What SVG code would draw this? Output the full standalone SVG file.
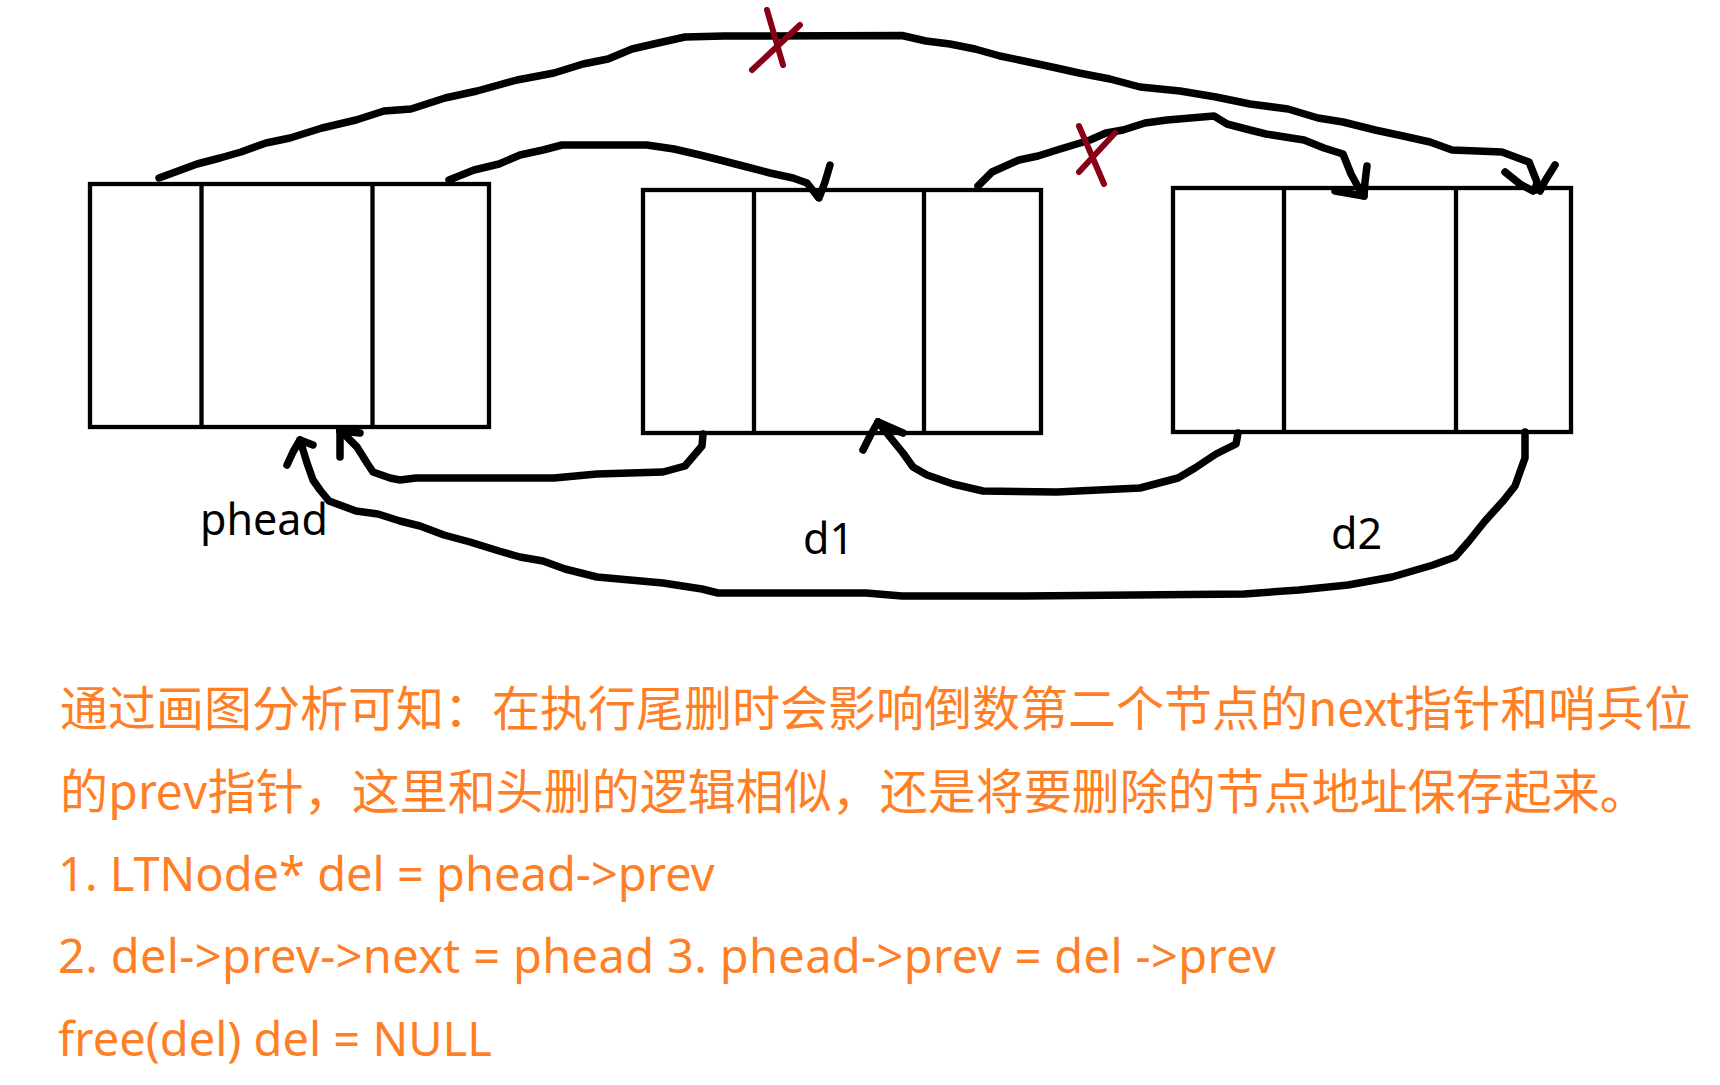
<svg xmlns="http://www.w3.org/2000/svg" width="1720" height="1085" viewBox="0 0 1720 1085">
<style>
.box{fill:none;stroke:#000;stroke-width:4.3}
.div{stroke:#000;stroke-width:4.3}
.wire{fill:none;stroke:#000;stroke-width:7.5;stroke-linejoin:round;stroke-linecap:round}
.cross{fill:none;stroke:#880015;stroke-width:6;stroke-linecap:round;stroke-linejoin:round}
.lbl{font-family:"Noto Sans","Open Sans",sans-serif;font-size:43px;fill:#000}
.cjk{font-family:"Noto Sans CJK SC",sans-serif;font-size:48px;fill:#ff7f27}
.code{font-family:"Noto Sans","Open Sans",sans-serif;font-size:47px;fill:#ff7f27}
</style>
<rect width="1720" height="1085" fill="#fff"/>
<g id="phead">
<rect class="box" x="90" y="184" width="399" height="243"/>
<line class="div" x1="201.5" y1="184" x2="201.5" y2="427"/>
<line class="div" x1="372.5" y1="184" x2="372.5" y2="427"/>
<text class="lbl" x="200" y="535">phead</text>
</g>
<g id="d1">
<rect class="box" x="643" y="190" width="398" height="243"/>
<line class="div" x1="754" y1="190" x2="754" y2="433"/>
<line class="div" x1="924" y1="190" x2="924" y2="433"/>
<text class="lbl" x="803" y="554">d1</text>
</g>
<g id="d2">
<rect class="box" x="1173" y="188" width="398" height="244"/>
<line class="div" x1="1284" y1="188" x2="1284" y2="432"/>
<line class="div" x1="1456" y1="188" x2="1456" y2="432"/>
<text class="lbl" x="1331" y="549">d2</text>
</g>
<g id="connectors">
<polyline class="wire" points="159,178 178,171 197,164 220,158 241,152 266,143 290,138 322,128 356,120 384,111 411,109 445,98 477,91 517,80 554,73 583,64 608,59 632,49 658,43 685,37 724,36 902,35.5 926,41 950,44 975,49 1000,56 1024,61 1052,67 1079,73 1110,79 1140,87 1180,91 1216,97 1250,104 1288,109 1318,118 1343,122 1375,130 1403,136 1430,142 1452,150 1502,152 1529,162 1537,182 1535,190"/>
<polyline class="wire" points="1505,172 1520,184 1533,191"/>
<polyline class="wire" points="1555,165 1545,181 1540,191"/>
<polyline class="wire" points="449,180 474,170 499,164 520,155 543,150 562,145 647,145 674,149 700,155 720,160 747,167 770,173 793,178 807,183 818,197"/>
<polyline class="wire" points="830,165 825,182 819,198"/>
<polyline class="wire" points="978,186 992,172 1019,160 1038,156 1057,150 1090,140 1106,133 1123,130 1145,123 1167,120 1214,116 1227,124 1246,129 1266,134 1304,140 1324,148 1343,154 1351,174 1362,194"/>
<polyline class="wire" points="1367,166 1365,182 1364,196"/>
<polyline class="wire" points="1335,191 1364,196"/>
<polyline class="wire" points="703,434 702,446 685,466 663,472 597,474 554,478 416,478 400,480 390,478 373,472 367,463 357,447 347,437 340,430"/>
<polyline class="wire" points="340,430 340,457"/>
<polyline class="wire" points="340,431 360,433"/>
<polyline class="wire" points="1238,433 1236,444 1216,454 1195,468 1178,478 1140,488 1057,492 983,491 953,484 927,475 913,467 903,453 890,437 878,422"/>
<polyline class="wire" points="878,422 870,436 863,450"/>
<polyline class="wire" points="878,422 903,433"/>
<polyline class="wire" points="1525,432 1525,458 1515,486 1504,500 1485,521 1469,541 1455,557 1433,565 1392,577 1348,585 1299,590 1244,594 1024,596 902,596 866,593 718,593 702,589 663,583 597,577 565,569 543,561 520,557 499,551 470,542 444,535 420,526 400,521 378,514 356,511 329,501 320,490 313,480 307,463 300,440"/>
<polyline class="wire" points="300,440 293,452 287,465"/>
<polyline class="wire" points="300,440 313,445"/>
</g>
<g id="crosses">
<line class="cross" x1="767" y1="10" x2="783" y2="65"/>
<line class="cross" x1="800" y1="25" x2="752" y2="70"/>
<line class="cross" x1="1079" y1="126" x2="1104" y2="184"/>
<line class="cross" x1="1115" y1="133" x2="1079" y2="172"/>
</g>
<g id="notes">
<text class="cjk" x="60" y="726">通过画图分析可知：在执行尾删时会影响倒数第二个节点的next指针和哨兵位</text>
<text class="cjk" x="60" y="809">的prev指针，这里和头删的逻辑相似，还是将要删除的节点地址保存起来。</text>
<text class="code" x="58" y="891">1. LTNode* del = phead-&gt;prev</text>
<text class="code" x="58" y="973" textLength="1218" lengthAdjust="spacing">2. del-&gt;prev-&gt;next = phead 3. phead-&gt;prev = del -&gt;prev</text>
<text class="code" x="58" y="1056">free(del) del = NULL</text>
</g>
</svg>
